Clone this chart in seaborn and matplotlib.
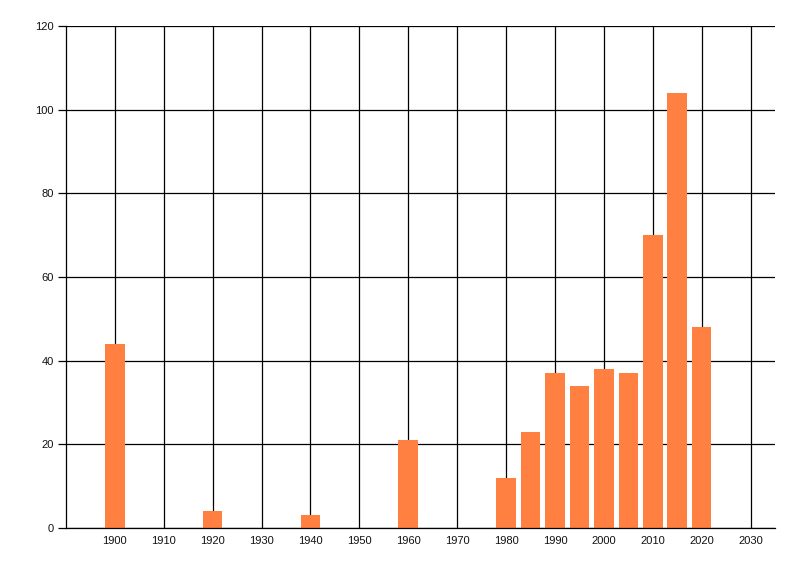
import matplotlib
matplotlib.use("Agg")
import matplotlib.pyplot as plt
import seaborn as sns

# values
years = [1900, 1920, 1940, 1960, 1980, 1985, 1990, 1995, 2000, 2005, 2010, 2015, 2020]
counts = [44, 4, 3, 21, 12, 23, 37, 34, 38, 37, 70, 104, 48]
x_ticks = list(range(1900, 2031, 10))
y_ticks = list(range(0, 121, 20))

sns.set_theme(style="white")
plt.rcParams['font.family'] = ['Liberation Sans', 'DejaVu Sans']

fig = plt.figure(figsize=(8, 5.76), dpi=100)
ax = fig.add_axes([66 / 800, 1 - 528 / 576, (775 - 66) / 800, (528 - 26) / 576])

sns.barplot(x=years, y=counts, native_scale=True, width=0.8,
            color='#FF8040', saturation=1, edgecolor='none', ax=ax)

ax.set_xlim(1890, 2035)
ax.set_ylim(0, 120)
ax.set_xticks(x_ticks)
ax.set_yticks(y_ticks)
ax.set_xlabel('')
ax.set_ylabel('')

ax.set_axisbelow(True)
ax.grid(True, color='black', linewidth=0.9)

for side in ['top', 'right']:
    ax.spines[side].set_visible(False)
for side in ['left', 'bottom']:
    ax.spines[side].set_color('black')
    ax.spines[side].set_linewidth(0.9)

ax.tick_params(axis='y', length=6, width=0.9, color='black', labelsize=8, pad=3, labelcolor='#111111')
ax.tick_params(axis='x', length=0, labelsize=8, pad=6, labelcolor='#111111')
ax.tick_params(axis='both', direction='out', left=True)

fig.savefig('out.png', dpi=100)
